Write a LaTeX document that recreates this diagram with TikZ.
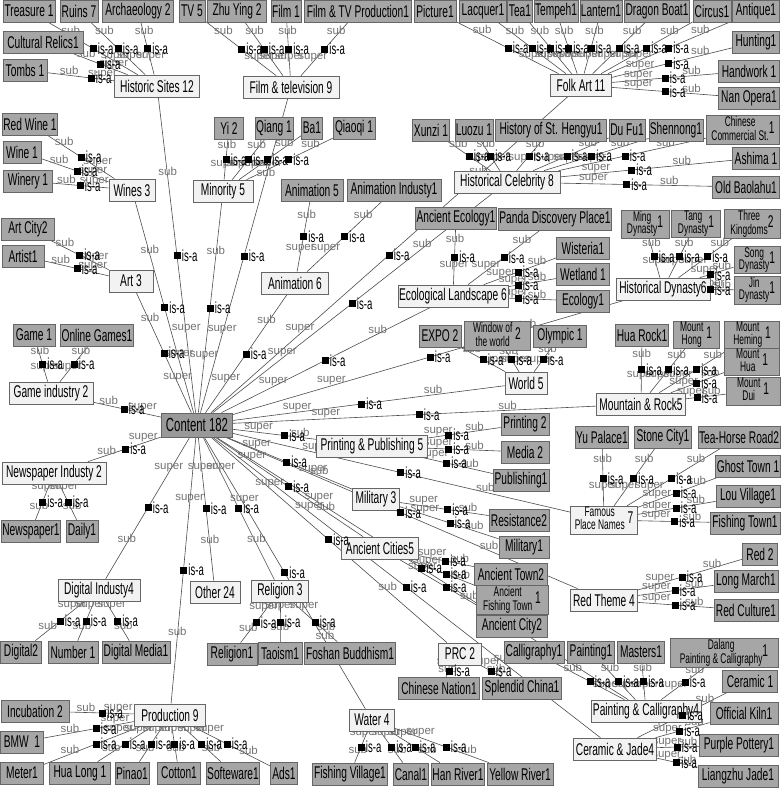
\documentclass[tikz,border=0pt]{standalone}
\usepackage{fontspec}
\setmainfont{Liberation Sans}
\newfontfamily\narrowfont[FakeStretch=0.6]{Liberation Sans}
\pgfdeclarelayer{links}
\pgfsetlayers{links,main}
\newcommand\twoline[2]{{\fontsize{14}{14}\selectfont\renewcommand\arraystretch{0.72}%
  \begin{tabular}{@{}c@{}}#1\\#2\end{tabular}}}
\tikzset{
  box/.style={draw=black!60, line width=0.7pt, minimum height=22pt, inner sep=1pt,
    font=\narrowfont\fontsize{17}{18}\selectfont},
  leaf/.style={box, fill=black!35},
  topic/.style={box, fill=black!5},
  root/.style={box, fill=black!40, minimum height=24pt, font=\narrowfont\fontsize{19}{20}\selectfont},
  link/.style={draw=black!70, line width=0.6pt},
  isasq/.style={fill=black, minimum size=7pt, inner sep=0pt},
  isalbl/.style={font=\narrowfont\fontsize{16}{16}\selectfont, inner sep=0.5pt, label distance=0.5pt},
  sublbl/.style={font=\fontsize{11.5}{11.5}\selectfont, text=black!55, inner sep=0.5pt, above},
  suplbl/.style={sublbl},
}
% child -> is-a square -> parent
\newcommand\isa[2]{%
  \path (#1.center) -- coordinate[midway] (mid) (#2.center);
  \begin{pgfonlayer}{links}
    \draw[link] (#1) -- node[sublbl] {sub} (mid) -- node[suplbl] {super} (#2);
  \end{pgfonlayer}
  \node[isasq, label={[isalbl]0:is-a}] at (mid) {};
}
\begin{document}
\begin{tikzpicture}[x=1pt, y=-1pt]
  \useasboundingbox (0,0) rectangle (780,788);

  % root
  \node[root, minimum width=71pt] (content) at (197,425) {Content 182};

  % categories
  \foreach \nm/\x/\y/\w/\txt in {
    hist/157/86/85/Historic Sites 12, ftv/291/87/96/Film \& television 9,
    folk/581/85/61/Folk Art 11, wines/132/190/46/Wines 3, mino/223/191/60/Minority 5,
    celeb/507/182/106/Historical Celebrity 8, art/131/281/44/Art 3,
    anim/295/283/67/Animation 6, ecol/453/296/110/Ecological Landscape 6,
    dyn/663/289/94/Historical Dynasty6, world/526/383/42/World 5,
    mrock/641/404/89/Mountain \& Rock5, gind/51/393/84/Game industry 2,
    pp/372/446/111/Printing \& Publishing 5, news/54/473/104/Newspaper Industy 2,
    mil/376/499/47/Military 3, fame/604/520/67/\twoline{Famous}{Place Names}~7,
    acit/380/548/77/Ancient Cities5, dig/99/590/82/Digital Industy4,
    other/215/592/50/Other 24, relig/280/591/57/Religion 3, redt/604/600/67/Red Theme 4,
    prc/460/654/43/PRC 2, prod/170/715/71/Production 9,
    pcal/646/711/110/Painting \& Calligraphy4, water/372/720/45/Water 4,
    cjade/615/749/83/Ceramic \& Jade4}
    \node[topic, minimum width=\w pt] (\nm) at (\x,\y) {\txt};

  % leaves
  \foreach \nm/\x/\y/\w/\txt in {
    trea/29/11/52/Treasure 1, ruin/79/11/38/Ruins 7, arch/138/11/71/Archaeology 2,
    tv/192/11/26/TV 5, zhu/237/11/59/Zhu Ying 2, film/286/11/27/Film 1,
    ftvp/358/11/107/Film \& TV Production1, pict/435/11/42/Picture1,
    lacq/483/11/47/Lacquer1, tea/520/11/25/Tea1, temp/556/11/43/Tempeh1,
    lant/601/11/41/Lantern1, drag/657/11/65/Dragon Boat1, circ/712/11/38/Circus1,
    anti/756/11/47/Antique1, crel/43/42/80/Cultural Relics1, tomb/25/70/44/Tombs 1,
    hunt/756/42/47/Hunting1, hand/749/71/61/Handwork 1, nanop/749/98/61/Nan Opera1,
    rwine/30/124/54/Red Wine 1, wine/22/152/38/Wine 1, winy/28/181/49/Winery 1,
    yi/229/128/29/Yi 2, qiang/274/128/38/Qiang 1, ba/312/128/21/Ba1,
    qiaoqi/354/128/42/Qiaoqi 1, anim5/312/190/62/Animation 5,
    animi/394/190/94/Animation Industy1, xunzi/431/130/37/Xunzi 1,
    luozu/474/130/38/Luozu 1, heng/551/130/111/History of St. Hengyu1,
    dufu/627/130/36/Du Fu1, shen/676/130/54/Shennong1,
    chst/743/130/73/\twoline{Chinese}{Commercial St.}1, ashi/756/158/47/Ashima 1,
    baol/746/187/67/Old Baolahu1, artc/28/229/53/Art City2, artist/23/256/42/Artist1,
    aeco/456/218/80/Ancient Ecology1, panda/555/219/111/Panda Discovery Place1,
    wist/583/248/53/Wisteria1, wetl/583/274/53/Wetland 1, ecolo/583/301/53/Ecology1,
    ming/645/224/48/\twoline{Ming}{Dynasty}1, tang/696/224/49/\twoline{Tang}{Dynasty}1,
    three/752/224/56/\twoline{Three}{Kingdoms}2, song/757/260/46/\twoline{Song}{Dynasty}1,
    jin/757/290/46/\twoline{Jin}{Dynasty}1, game/34/335/42/Game 1,
    ogame/97/335/72/Online Games1, expo/440/336/42/EXPO 2,
    window/497/336/66/\twoline{Window of}{the world}~2, olym/560/336/53/Olympic 1,
    huar/642/335/52/Hua Rock1, mhong/696/335/46/\twoline{Mount}{Hong}~1,
    mhem/752/335/55/\twoline{Mount}{Heming}~1, mhua/752/362/55/\twoline{Mount}{Hua}~1,
    mdui/753/391/54/\twoline{Mount}{Dui}~1, print/525/424/48/Printing 2,
    media/525/452/48/Media 2, publ/521/480/56/Publishing1, yupal/602/437/53/Yu Palace1,
    stone/663/437/57/Stone City1, teah/739/437/82/Tea-Horse Road2,
    ghost/748/466/64/Ghost Town 1, lou/748/496/64/Lou Village1,
    fisht/745/523/70/Fishing Town1, newsp/31/531/59/Newspaper1, daily/82/531/32/Daily1,
    resi/519/520/60/Resistance2, mili/524/547/50/Military1, red/760/554/35/Red 2,
    atown/511/574/73/Ancient Town2, lmarch/746/581/64/Long March1,
    afish/512/600/72/\twoline{Ancient}{Fishing Town}~1, rcult/746/610/64/Red Culture1,
    acity/512/626/71/Ancient City2, dig2/21/652/41/Digital2, num/73/652/50/Number 1,
    dmed/136/652/68/Digital Media1, rel1/232/654/50/Religion1, tao/280/653/44/Taoism1,
    fosh/350/653/91/Foshan Buddhism1, calli/534/652/60/Calligraphy1,
    paint/591/652/47/Painting1, mast/641/652/47/Masters1,
    dalang/724/653/108/\twoline{Dalang}{Painting \& Calligraphy}1,
    cera/750/681/55/Ceramic 1, chnat/439/688/81/Chinese Nation1,
    splen/522/688/79/Splendid China1, incub/35/711/68/Incubation 2,
    offk/744/713/68/Official Kiln1, bmw/22/742/43/BMW~~1, purp/739/745/79/Purple Pottery1,
    meter/22/773/43/Meter1, hualong/80/773/61/Hua Long 1, pinao/132/773/33/Pinao1,
    cotton/179/773/43/Cotton1, soft/233/773/53/Softeware1, ads/284/773/27/Ads1,
    fvil/350/774/75/Fishing Village1, canal/411/774/35/Canal1, han/458/774/51/Han River1,
    yell/520/774/66/Yellow River1, liang/738/776/80/Liangzhu Jade1}
    \node[leaf, minimum width=\w pt] (\nm) at (\x,\y) {\txt};

  % is-a links, parent/children
  \foreach \p/\cs in {
    hist/{trea,ruin,arch,crel,tomb}, ftv/{tv,zhu,film,ftvp}, wines/{rwine,wine,winy},
    mino/{yi,qiang,ba,qiaoqi}, art/{artc,artist}, anim/{anim5,animi},
    folk/{pict,lacq,tea,temp,lant,drag,circ,anti,hunt,hand,nanop},
    celeb/{xunzi,luozu,heng,dufu,shen,chst,ashi,baol},
    ecol/{aeco,panda,wist,wetl,ecolo}, dyn/{ming,tang,three,song,jin},
    world/{expo,window,olym}, mrock/{huar,mhong,mhem,mhua,mdui},
    gind/{game,ogame}, news/{newsp,daily}, pp/{print,media,publ}, mil/{resi,mili},
    fame/{yupal,stone,teah,ghost,lou,fisht}, acit/{atown,afish,acity},
    redt/{red,lmarch,rcult}, dig/{dig2,num,dmed}, relig/{rel1,tao,fosh},
    prc/{chnat,splen}, pcal/{calli,paint,mast,dalang}, cjade/{cera,offk,purp,liang},
    prod/{incub,bmw,meter,hualong,pinao,cotton,soft,ads}, water/{fvil,canal,han,yell},
    content/{hist,ftv,wines,mino,art,anim,folk,celeb,ecol,dyn,world,mrock,gind,news,
      pp,mil,fame,acit,redt,dig,other,relig,prc,pcal,cjade,prod,water}}
    \foreach \c in \cs {\isa{\c}{\p}};
\end{tikzpicture}
\end{document}
